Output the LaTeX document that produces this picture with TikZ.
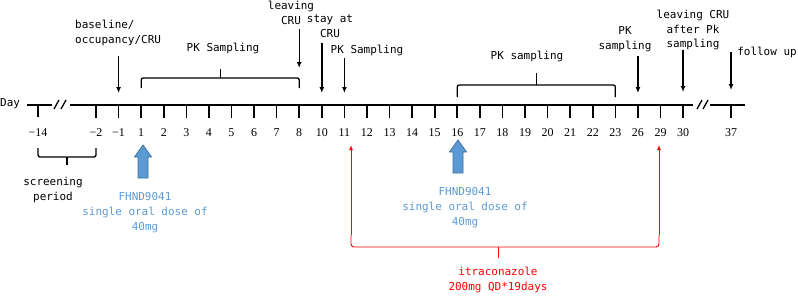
\documentclass[tikz,border=0pt]{standalone}
\usepackage{fontspec}
\setmainfont{DejaVu Sans Mono}
\newfontfamily\numfont{Liberation Serif}
\usetikzlibrary{arrows.meta,calc}
\definecolor{doseblue}{HTML}{5B9BD5}
\definecolor{doseedge}{HTML}{41719C}
\begin{document}
\begin{tikzpicture}[x=1bp,y=-1bp,>={Latex[length=6bp,width=5bp]},
  lbl/.style={align=center, inner sep=0pt, font=\fontsize{11}{15}\selectfont},
  daynum/.style={inner sep=0pt, font=\numfont\fontsize{12}{14}\selectfont},
  ax/.style={line width=1.6bp},
  arr/.style={->, line width=1.4bp},
  brk/.style={line width=1.3bp, rounded corners=2bp},
  dose/.style={fill=doseblue, draw=doseedge, line width=0.8bp},
  redline/.style={red, line width=0.9bp, rounded corners=3bp}]
\useasboundingbox (0,0) rectangle (798,295);
% time axis
\node[lbl, anchor=west] (day) at (0,104) {Day};
\coordinate (t-14) at (38,105);
\draw[ax] (27,105) -- (52,105);
\draw[ax] (t-14) -- ++(0,12);
\node[daynum] (n-14) at (38,133) {−14};
\draw[line width=1.3bp] (54,109) -- (59,100) (61,109) -- (66,100);
\draw[ax] (70,105) -- (693,105);
\foreach \d/\lab [count=\i from 0] in {-2/{−2},-1/{−1},1/1,2/2,3/3,4/4,5/5,6/6,7/7,8/8,
    10/10,11/11,12/12,13/13,14/14,15/15,16/16,17/17,18/18,19/19,20/20,21/21,22/22,23/23,
    26/26,29/29,30/30} {
  \coordinate (t\d) at ({96+22.58*\i},105);
  \draw[ax] (t\d) -- ++(0,13);
  \node[daynum] (n\d) at ({96+22.58*\i},133) {\lab};
}
\draw[line width=1.3bp] (697,109) -- (702,100) (703,109) -- (708,100);
\draw[ax] (710,105) -- (745,105);
\coordinate (t37) at (731,105);
\draw[ax] (t37) -- ++(0,13);
\node[daynum] (n37) at (731,133) {37};

% visits above the axis
\node[lbl, align=left, anchor=west] (base) at (75,32.5) {baseline/\\occupancy/CRU};
\node[lbl] (leave8) at (291,13) {leaving\\CRU};
\node[lbl] (stay) at (330,26) {stay at\\CRU};
\node[lbl] (pk11) at (367,50) {PK Sampling};
\node[lbl] (pk26) at (625,39) {PK\\sampling};
\node[lbl] (leave30) at (693,30) {leaving CRU\\after Pk\\sampling};
\node[lbl] (follow) at (767,52) {follow up};
\draw[arr, shorten <=10bp] (base.south -| t-1) -- ([yshift=12bp]t-1);
\draw[arr, shorten <=4bp] (leave8.south -| t8) -- ([yshift=37bp]t8);
\draw[arr, shorten <=5bp] (stay.south -| t10) -- ([yshift=12bp]t10);
\draw[arr, shorten <=2bp] (pk11.south -| t11) -- ([yshift=12bp]t11);
\draw[arr, shorten <=4bp] (pk26.south -| t26) -- ([yshift=12bp]t26);
\draw[arr, shorten <=-1bp] (leave30.south -| t30) -- ([yshift=13bp]t30);
\draw[arr] (t37 |- follow) -- ([yshift=15bp]t37);

% sampling brackets
\node[lbl] (pkA) at (223,48) {PK Sampling};
\draw[brk] ([yshift=17bp]t1) |- ([yshift=27bp]t8) -- ([yshift=17bp]t8);
\draw[brk] ([yshift=27bp]$(t1)!0.5!(t8)$) -- ++(0,-9);
\node[lbl] (pkB) at (527,56) {PK sampling};
\draw[brk] ([yshift=8bp]t16) |- ([yshift=20bp]t23) -- ([yshift=8bp]t23);
\draw[brk] ([yshift=20bp]$(t16)!0.5!(t23)$) -- ++(0,-12);

% screening
\draw[brk] ([yshift=-43bp]t-14) |- ([yshift=-52bp]t-2) -- ([yshift=-43bp]t-2);
\draw[brk] ([yshift=-52bp]$(t-14)!0.5!(t-2)$) -- ++(0,8);
\node[lbl] (screen) at (53,190) {screening\\period};

% FHND9041 doses
\coordinate (d1) at (143,178);
\coordinate (d2) at (458,173);
\foreach \c in {d1,d2}
  \draw[dose] (\c) ++(-5,0) -- ++(0,-21) -- ++(-3.5,0) -- ++(8.5,-12) -- ++(8.5,12) -- ++(-3.5,0) -- ++(0,21) -- cycle;
\node[lbl, text=doseblue] (dose1) at (145,213) {FHND9041\\single oral dose of\\40mg};
\node[lbl, text=doseblue] (dose2) at (465,208) {FHND9041\\single oral dose of\\40mg};

% itraconazole
\coordinate (rL) at (351,235);
\coordinate (rR) at (659,235);
\node[lbl, text=red] (itra) at (498,280) {itraconazole\\200mg QD*19days};
\draw[redline, ->, >={Latex[length=5bp,width=4bp]}, rounded corners=0pt] (rL) -- ++(0,-90);
\draw[redline, ->, >={Latex[length=5bp,width=4bp]}, rounded corners=0pt] (rR) -- ++(0,-90);
\draw[redline] (rL) -- ++(0,12) -| (rR);
\draw[redline] (itra.north |- rL) ++(0,12) -- ++(0,11);
\end{tikzpicture}
\end{document}
